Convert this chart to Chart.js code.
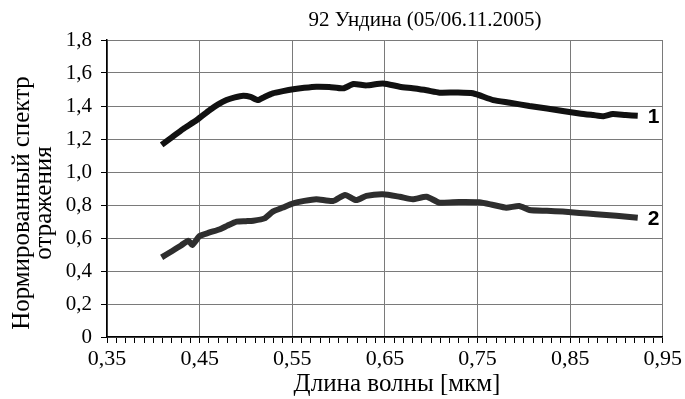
<!DOCTYPE html>
<html>
<head>
<meta charset="utf-8">
<script src="https://cdn.jsdelivr.net/npm/chart.js@4"></script>
<style>
  body { margin: 0; background: #fff; }
  #wrap { width: 685px; height: 399px; }
</style>
</head>
<body>
<div id="wrap"><canvas id="spectrum"></canvas></div>
<script>
// длина волны (мкм) и нормированный спектр
var wave1 = [0.409, 0.420, 0.432, 0.447, 0.461, 0.470, 0.479, 0.488, 0.497, 0.505, 0.513, 0.520, 0.529, 0.540, 0.551, 0.563, 0.576, 0.590, 0.605, 0.616, 0.630, 0.648, 0.666, 0.680, 0.695, 0.709, 0.728, 0.745, 0.767, 0.785, 0.806, 0.825, 0.842, 0.860, 0.875, 0.886, 0.896, 0.910, 0.923];
var refl1 = [1.164, 1.21, 1.26, 1.315, 1.376, 1.41, 1.436, 1.452, 1.462, 1.455, 1.436, 1.455, 1.477, 1.49, 1.501, 1.51, 1.517, 1.515, 1.507, 1.533, 1.525, 1.537, 1.517, 1.507, 1.495, 1.481, 1.482, 1.477, 1.436, 1.42, 1.40, 1.385, 1.370, 1.355, 1.345, 1.338, 1.351, 1.345, 1.341];
var wave2 = [0.409, 0.420, 0.430, 0.438, 0.442, 0.450, 0.460, 0.472, 0.480, 0.490, 0.500, 0.508, 0.520, 0.529, 0.540, 0.551, 0.563, 0.576, 0.594, 0.607, 0.619, 0.630, 0.648, 0.666, 0.680, 0.695, 0.709, 0.730, 0.752, 0.767, 0.781, 0.795, 0.806, 0.825, 0.842, 0.860, 0.878, 0.900, 0.923];
var refl2 = [0.483, 0.52, 0.555, 0.584, 0.558, 0.612, 0.632, 0.653, 0.675, 0.699, 0.702, 0.705, 0.719, 0.760, 0.785, 0.810, 0.825, 0.835, 0.824, 0.861, 0.830, 0.855, 0.865, 0.85, 0.835, 0.850, 0.814, 0.818, 0.816, 0.800, 0.784, 0.794, 0.770, 0.765, 0.760, 0.752, 0.744, 0.735, 0.723];
var curveLabels = ['1', '2'];
var chartTitle = '92 Ундина (05/06.11.2005)';
var xTitle = 'Длина волны [мкм]';
var yTitle = ['Нормированный спектр', 'отражения'];

function toPoints(xs, ys) {
  return xs.map(function (x, i) { return { x: x, y: ys[i] }; });
}
function comma(v, digits) {
  return v.toFixed(digits).replace('.', ',');
}

var serif = '"Liberation Serif", "Times New Roman", serif';

// подписи кривых и заголовки (в оригинале сдвинуты относительно центра)
var textPlugin = {
  id: 'textPlugin',
  afterDraw: function (chart) {
    var ctx = chart.ctx;
    var xs = chart.scales.x, ys = chart.scales.y;
    ctx.save();
    ctx.fillStyle = '#000';
    ctx.textBaseline = 'middle';
    ctx.font = 'bold 21px "Liberation Sans", Arial, sans-serif';
    chart.data.datasets.forEach(function (ds, i) {
      var last = ds.data[ds.data.length - 1];
      ctx.fillText(curveLabels[i], xs.getPixelForValue(last.x) + 10, ys.getPixelForValue(last.y) + 1);
    });

    ctx.textAlign = 'center';
    ctx.font = '21px ' + serif;
    ctx.fillText(chartTitle, 425, 20);
    ctx.font = '25px ' + serif;
    ctx.fillText(xTitle, 397, 384);

    ctx.translate(0, 203);
    ctx.rotate(-Math.PI / 2);
    ctx.fillText(yTitle[0], 0, 22);
    ctx.fillText(yTitle[1], 0, 44);
    ctx.restore();
  }
};

var chart = new Chart(document.getElementById('spectrum'), {
  type: 'scatter',
  data: {
    datasets: [
      {
        data: toPoints(wave1, refl1),
        showLine: true,
        borderColor: '#111',
        backgroundColor: '#111',
        borderWidth: 6,
        pointRadius: 0,
        tension: 0.2,
      },
      {
        data: toPoints(wave2, refl2),
        showLine: true,
        borderColor: '#2e2e2e',
        backgroundColor: '#2e2e2e',
        borderWidth: 6,
        pointRadius: 0,
        tension: 0.2,
      },
    ],
  },
  plugins: [textPlugin],
  options: {
    responsive: true,
    maintainAspectRatio: false,
    animation: false,
    layout: { padding: { top: 40, right: 22, left: 0, bottom: 0 } },
    plugins: {
      legend: { display: false },
      tooltip: { enabled: false },
      title: { display: false },
    },
    scales: {
      x: {
        type: 'linear',
        min: 0.35,
        max: 0.95,
        afterFit: function (scale) { scale.height = 62; },
        ticks: {
          stepSize: 0.01,
          maxTicksLimit: 100,
          autoSkip: false,
          maxRotation: 0,
          color: '#000',
          padding: 3,
          font: { family: serif, size: 22 },
          callback: function (value) {
            var n = Math.round(value * 100);
            return n % 10 === 5 ? comma(n / 100, 2) : '';
          },
        },
        grid: {
          tickLength: 6,
          color: function (c) {
            var n = Math.round(c.tick.value * 100);
            return n % 10 === 5 ? '#7a7a7a' : 'rgba(0,0,0,0)';
          },
          tickColor: '#000',
          lineWidth: 1,
        },
        border: { color: '#000', width: 1.5 },
      },
      y: {
        min: 0,
        max: 1.8,
        afterFit: function (scale) { scale.width = 107; },
        ticks: {
          stepSize: 0.1,
          color: '#000',
          padding: 9,
          font: { family: serif, size: 21 },
          callback: function (value) {
            var n = Math.round(value * 10);
            if (n % 2 !== 0) return '';
            return n === 0 ? '0' : comma(n / 10, 1);
          },
        },
        grid: {
          tickLength: 6,
          color: function (c) {
            var n = Math.round(c.tick.value * 10);
            return n % 2 === 0 ? '#7a7a7a' : 'rgba(0,0,0,0)';
          },
          tickColor: '#000',
          lineWidth: 1,
        },
        border: { color: '#000', width: 1.5 },
      },
    },
  },
});
</script>
</body>
</html>
